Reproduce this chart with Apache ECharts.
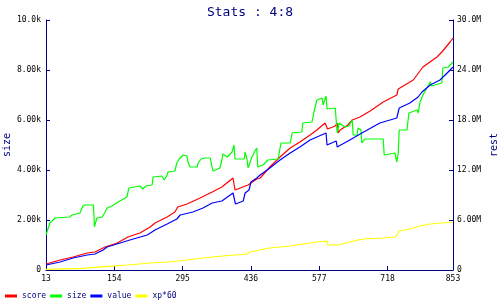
<!DOCTYPE html>
<html>
<head>
<meta charset="utf-8">
<script src="https://cdn.jsdelivr.net/npm/echarts@6/dist/echarts.min.js"></script>
<style>html,body{margin:0;padding:0;background:#fff}#c{width:500px;height:300px}</style>
</head>
<body>
<div id="c"></div>
<script>
var xTicks = [13, 154, 295, 436, 577, 718, 853];
var leftTicks = [0, 2000, 4000, 6000, 8000, 10000];
var rightTicks = [0, 6, 12, 18, 24, 30]; // millions

// size (left axis)
var sizeData = [[13,1400],[21,1880],[32,2080],[62,2120],[67,2200],[83,2280],[89,2560],[94,2600],[111,2600],[113,1730],[118,2080],[129,2120],[135,2320],[139,2480],[149,2560],[162,2720],[180,2920],[184,3280],[207,3360],[213,3240],[219,3360],[232,3400],[234,3720],[252,3760],[257,3600],[263,3800],[265,3920],[279,3960],[283,4280],[288,4440],[296,4600],[304,4560],[306,4320],[310,4120],[325,4120],[327,4280],[333,4440],[341,4480],[352,4480],[356,4080],[358,3960],[372,4080],[376,4400],[378,4640],[382,4680],[387,4520],[397,4720],[401,5000],[403,4440],[422,4440],[424,4720],[428,4400],[430,4080],[434,4040],[438,4520],[442,4680],[448,4880],[450,4120],[461,4200],[471,4400],[492,4440],[498,5080],[517,5080],[521,5480],[541,5520],[543,5880],[562,5920],[566,6320],[572,6800],[583,6880],[585,6600],[591,6960],[593,6440],[610,6480],[614,5480],[618,5880],[630,5720],[638,5760],[645,6000],[647,5400],[655,5400],[657,5680],[663,5600],[665,5080],[671,5240],[709,5240],[711,4600],[733,4680],[737,4320],[740,4680],[742,5600],[758,5600],[762,6280],[779,6400],[781,6280],[785,6720],[791,7000],[806,7520],[808,7360],[830,7480],[832,8080],[843,8120],[851,8280],[853,8320]];

// score (right axis, millions)
var scoreData = [[13,0.72],[42,1.2],[69,1.56],[98,2.04],[114,2.16],[135,2.76],[160,3.24],[182,3.96],[207,4.44],[228,5.16],[238,5.64],[263,6.36],[279,6.96],[285,7.56],[304,7.92],[331,8.64],[356,9.36],[376,9.96],[399,11.04],[401,11.16],[403,9.6],[430,10.2],[448,10.92],[455,11.04],[475,12.36],[496,13.56],[517,14.64],[537,15.36],[558,16.2],[572,16.8],[589,17.64],[593,17.64],[594,16.92],[610,17.28],[614,17.64],[616,16.44],[620,16.8],[636,17.4],[645,18.0],[661,18.36],[682,19.08],[709,20.16],[737,21.0],[740,21.72],[771,22.8],[791,24.36],[820,25.56],[830,26.16],[847,27.36],[853,27.84]];

// value (right axis, millions)
var valueData = [[13,0.6],[42,0.96],[69,1.44],[98,1.8],[114,1.92],[131,2.4],[139,2.76],[166,3.24],[193,3.72],[222,4.2],[238,4.8],[263,5.52],[283,6.12],[290,6.6],[316,6.96],[337,7.44],[356,8.04],[376,8.28],[399,9.24],[402,9.36],[404,7.92],[420,8.28],[424,9.24],[432,9.6],[436,10.56],[448,11.04],[455,11.4],[475,12.24],[496,13.2],[517,14.04],[537,14.76],[558,15.6],[591,16.44],[593,15.0],[612,15.48],[614,14.76],[640,15.6],[665,16.44],[702,17.64],[737,18.24],[742,19.44],[764,20.04],[781,20.76],[789,21.36],[806,22.2],[826,22.8],[841,23.64],[853,24.36]];

// xp*60 (right axis, millions)
var xpData = [[13,0.08],[89,0.2],[135,0.4],[182,0.6],[228,0.84],[263,0.96],[304,1.2],[337,1.44],[378,1.68],[428,1.92],[434,2.16],[475,2.64],[517,2.88],[572,3.36],[593,3.48],[595,3.0],[616,3.0],[618,3.12],[640,3.36],[667,3.72],[709,3.84],[735,3.96],[742,4.68],[764,4.92],[785,5.28],[806,5.52],[830,5.64],[853,5.76]];

var navy = '#000080';
var mono = '"DejaVu Sans Mono", "Liberation Mono", monospace';

function fmt3(v, suffix) {
  if (v === 0) return '0';
  if (v >= 10) return v.toFixed(1) + suffix;
  return v.toFixed(2) + suffix;
}

var chart = echarts.init(document.getElementById('c'), null, {renderer: 'canvas'});
chart.setOption({
  animation: false,
  backgroundColor: '#fff',
  title: {
    text: 'Stats : 4:8', left: 'center', top: 1,
    textStyle: {fontFamily: mono, fontSize: 13, fontWeight: 'normal', color: navy}
  },
  legend: {
    left: 0, top: 287, itemWidth: 12, itemHeight: 3, itemGap: 4, icon: 'rect',
    textStyle: {fontFamily: mono, fontSize: 8, color: navy, width: 28},
    data: ['score', 'size', 'value', 'xp*60']
  },
  grid: {left: 46, right: 47, top: 20, bottom: 30, containLabel: false, outerBoundsMode: 'none'},
  xAxis: {
    type: 'value', min: 13, max: 853,
    axisLine: {lineStyle: {color: navy, width: 1}},
    axisTick: {inside: true, length: 4, lineStyle: {color: navy}, customValues: xTicks},
    axisLabel: {customValues: xTicks, margin: 5, color: '#000', fontFamily: mono, fontSize: 8},
    splitLine: {show: false}
  },
  yAxis: [{
    type: 'value', min: 0, max: 10000, interval: 2000, position: 'left',
    name: 'size', nameLocation: 'middle', nameGap: 34, nameRotate: 90, nameMoveOverlap: false,
    nameTextStyle: {fontFamily: mono, fontSize: 10, color: navy},
    axisLine: {show: true, lineStyle: {color: navy, width: 1}},
    axisTick: {show: true, inside: true, length: 4, lineStyle: {color: navy}},
    axisLabel: {margin: 5, color: '#000', fontFamily: mono, fontSize: 8,
      formatter: function (v) { return fmt3(v / 1000, 'k'); }},
    splitLine: {show: false}
  }, {
    type: 'value', min: 0, max: 30, interval: 6, position: 'right',
    name: 'rest', nameLocation: 'middle', nameGap: 36, nameRotate: 90, nameMoveOverlap: false,
    nameTextStyle: {fontFamily: mono, fontSize: 10, color: navy},
    axisLine: {show: true, lineStyle: {color: navy, width: 1}},
    axisTick: {show: true, inside: true, length: 4, lineStyle: {color: navy}},
    axisLabel: {margin: 4, color: '#000', fontFamily: mono, fontSize: 8,
      formatter: function (v) { return fmt3(v, 'M'); }},
    splitLine: {show: false}
  }],
  series: [
    {name: 'score', type: 'line', yAxisIndex: 1, data: scoreData, showSymbol: false, color: '#ff0000', lineStyle: {width: 1.2}},
    {name: 'size', type: 'line', yAxisIndex: 0, data: sizeData, showSymbol: false, color: '#00ff00', lineStyle: {width: 1.2}},
    {name: 'value', type: 'line', yAxisIndex: 1, data: valueData, showSymbol: false, color: '#0000ff', lineStyle: {width: 1.2}},
    {name: 'xp*60', type: 'line', yAxisIndex: 1, data: xpData, showSymbol: false, color: '#ffff00', lineStyle: {width: 1.2}}
  ]
});
</script>
</body>
</html>
